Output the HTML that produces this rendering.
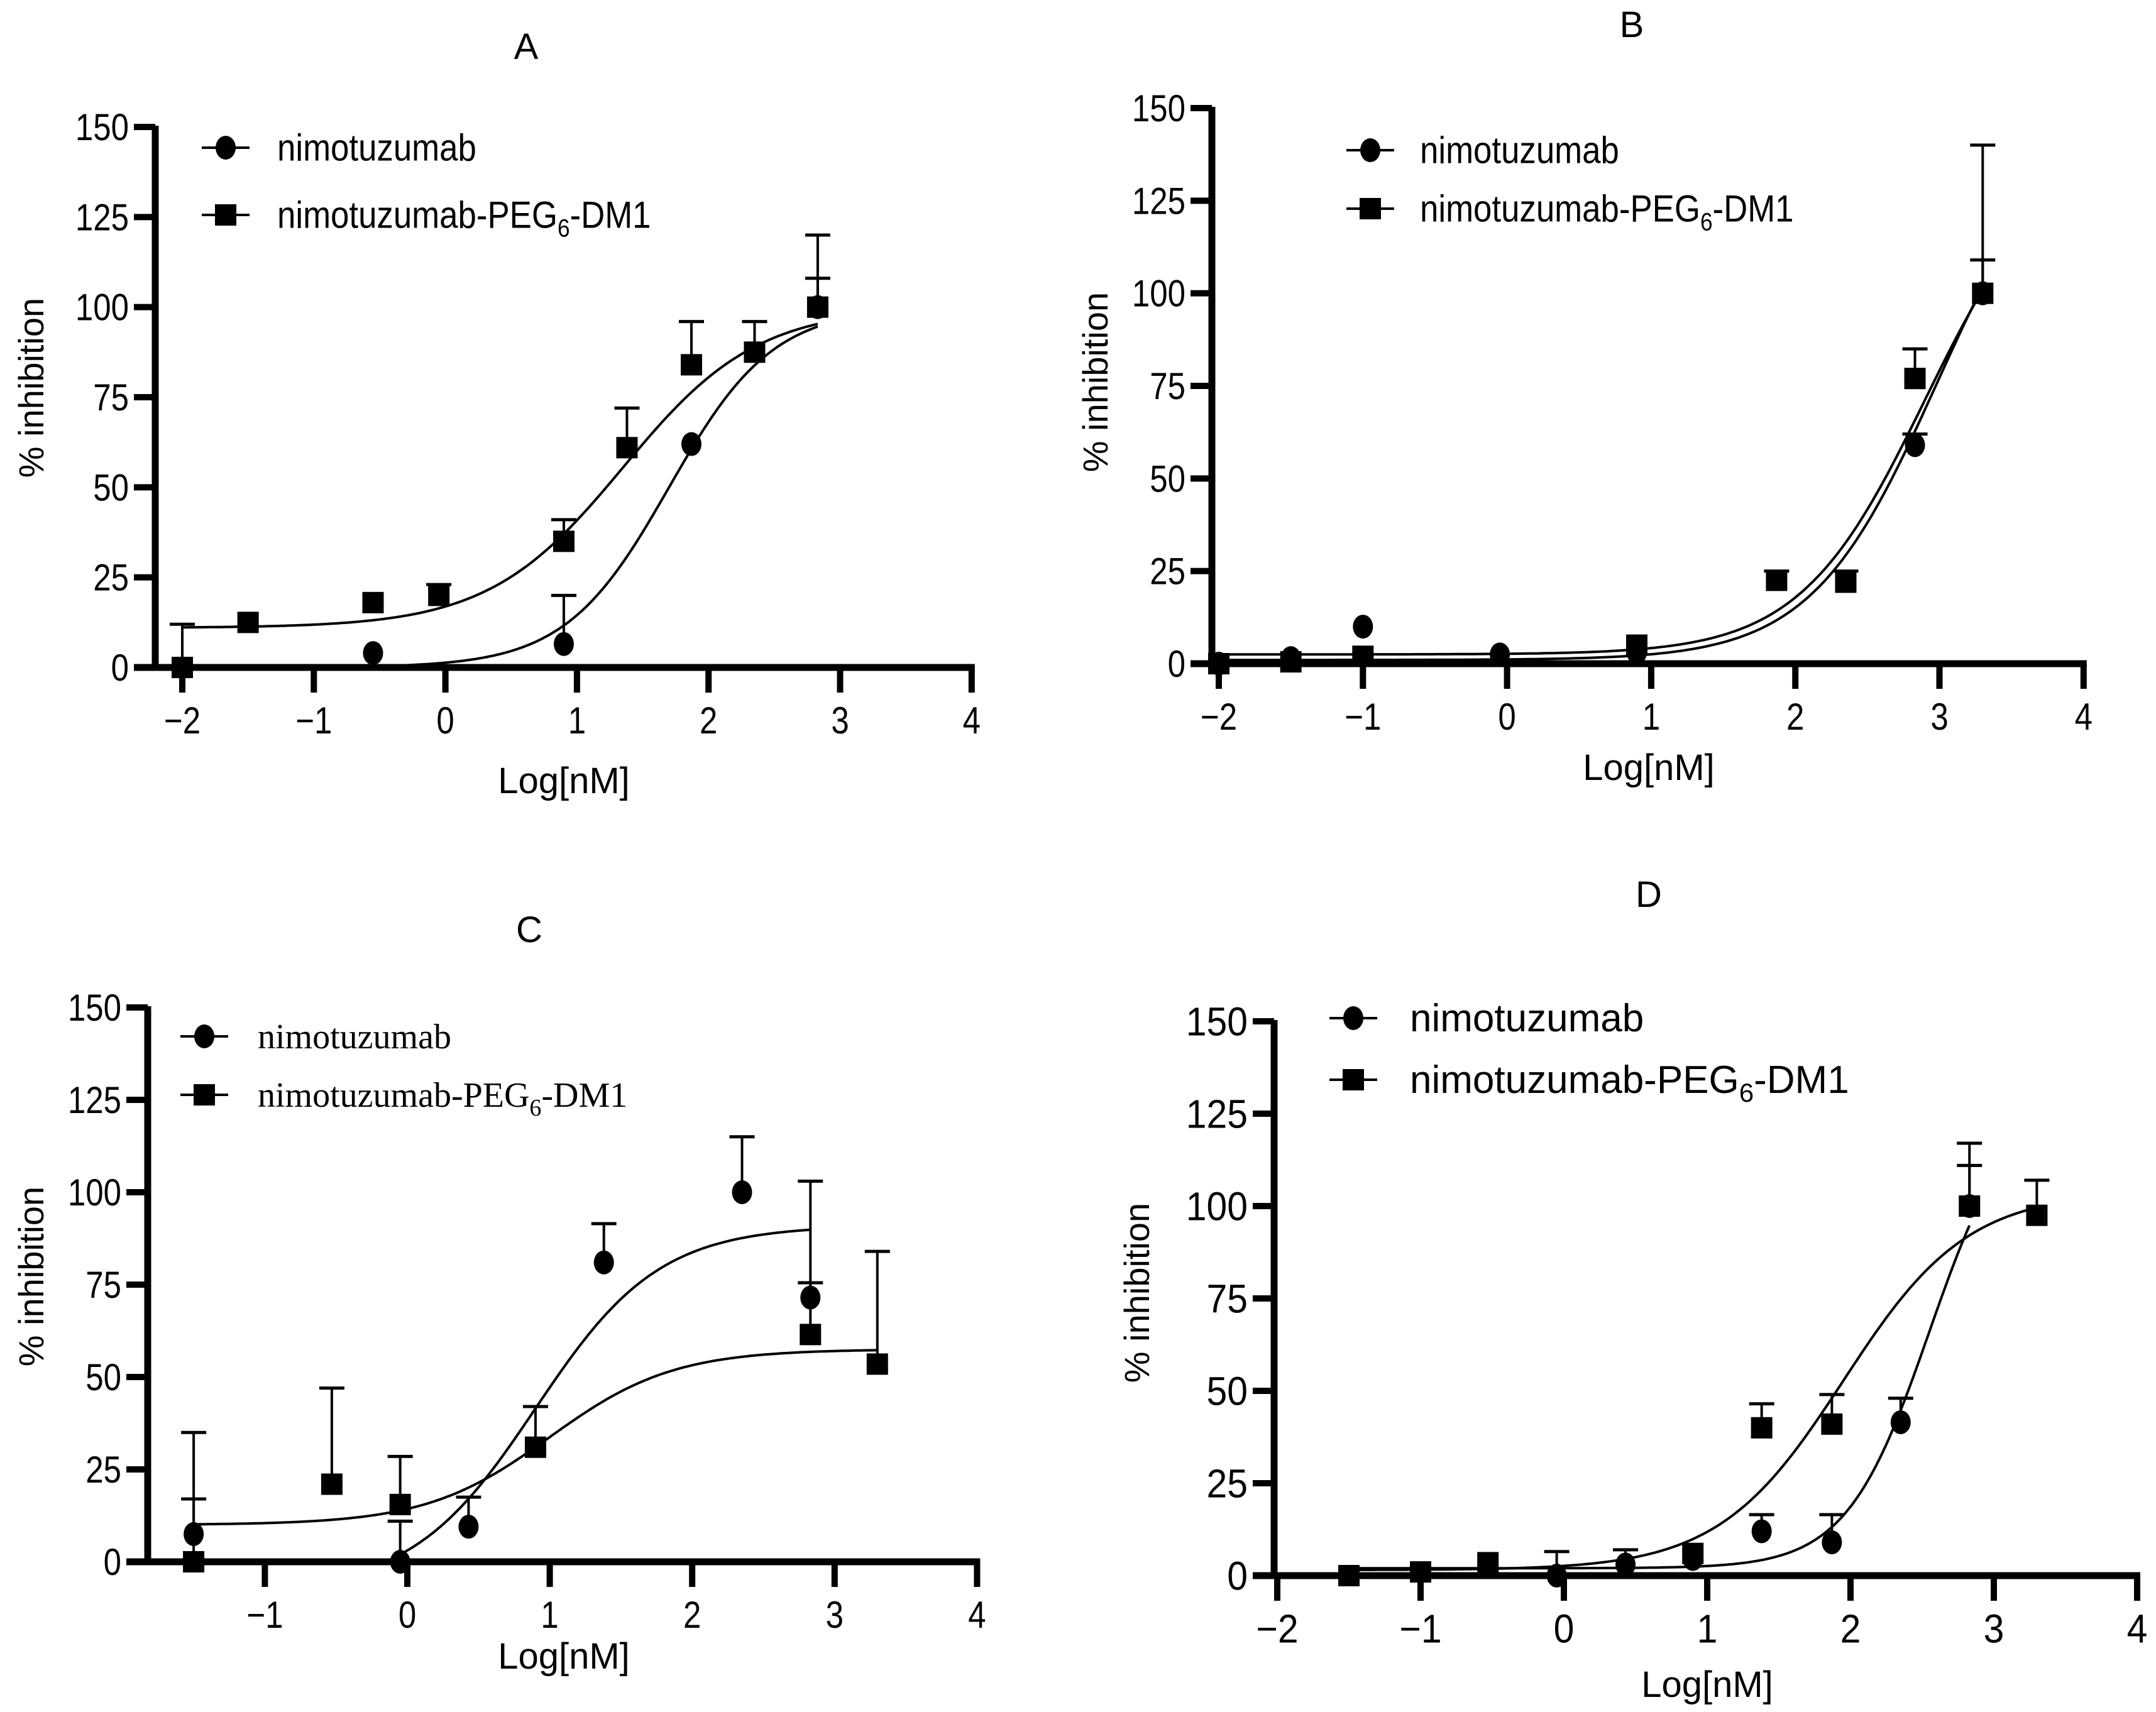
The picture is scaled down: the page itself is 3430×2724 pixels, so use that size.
<!DOCTYPE html>
<html><head><meta charset="utf-8"><style>
html,body{margin:0;padding:0;background:#fff;}
svg{display:block;}
</style></head><body>
<svg id="fig" xmlns="http://www.w3.org/2000/svg" width="3430" height="2724" viewBox="0 0 3430 2724">
<rect width="3430" height="2724" fill="#fff"/>
</svg>
<script>
// ---------- DATA ----------
const xTicksABD = [-2,-1,0,1,2,3,4];
const xTicksC = [-1,0,1,2,3,4];
const yTicks = [0,25,50,75,100,125,150];

// Panel A
const aCircX = [-0.55, 0.9, 1.87, 2.83];
const aCircY = [4, 6.5, 62, 100];
const aCircErr = [null, 20, null, 120];
const aSqX = [-2, -1.5, -0.55, -0.05, 0.9, 1.38, 1.87, 2.35, 2.83];
const aSqY = [0, 12.5, 18, 20, 35, 61, 84, 87.5, 100];
const aSqErr = [12, null, null, 23, 41, 72, 96, 96, 108];
const aCircFit = [0, 100, 1.7, 1.1];
const aSqFit = [11, 100, 1.35, 0.85];

// Panel B
const bCircX = [-2, -1.5, -1, -0.05, 0.9, 2.83, 3.3];
const bCircY = [0, 1.5, 10, 2.5, 3, 59, 100];
const bCircErr = [null, null, null, null, null, 62, 140];
const bSqX = [-2, -1.5, -1, 0.9, 1.87, 2.35, 2.83, 3.3];
const bSqY = [0, 0.5, 2, 5, 22.5, 22, 77, 100];
const bSqErr = [null, null, null, null, 25, 25, 85, 109];
const bCircFit = [1, 150, 2.98, 1];
const bSqFit = [2.5, 140, 2.9, 1];

// Panel C
const cCircX = [-1.5, -0.05, 0.43, 1.38, 2.35, 2.83];
const cCircY = [7.5, 0, 9.5, 81, 100, 71.5];
const cCircErr = [17, 11, 17.5, 91.5, 115, 75.5];
const cSqX = [-1.5, -0.53, -0.05, 0.9, 2.83, 3.3];
const cSqY = [0, 21, 15.5, 31, 61.5, 53.5];
const cSqErr = [35, 47, 28.5, 42, 103, 84];
const cCircFit = [-8, 91, 0.9, 1.0];
const cSqFit = [10, 57.5, 1.0, 1];

// Panel D
const dCircX = [-0.05, 0.43, 0.9, 1.38, 1.87, 2.35, 2.83];
const dCircY = [0, 3, 4.5, 12, 9, 41.5, 100];
const dCircErr = [6.5, 7, null, 16.5, 16.5, 48, 117];
const dSqX = [-1.5, -1, -0.53, 0.9, 1.38, 1.87, 2.83, 3.3];
const dSqY = [0, 1, 3.5, 6, 40, 41, 100, 97.5];
const dSqErr = [null, null, null, null, 46.5, 49, 111, 107];
const dCircFit = [2, 130, 2.55, 1.5];
const dSqFit = [1.5, 104, 1.95, 1.0];

// ---------- RENDER ----------
const NS = 'http://www.w3.org/2000/svg';
const svg = document.getElementById('fig');
function mk(tag, attrs, parent){
  const e = document.createElementNS(NS, tag);
  for (const k in attrs) e.setAttribute(k, attrs[k]);
  (parent||svg).appendChild(e);
  return e;
}
function sig(p, x){ return p[0] + (p[1]-p[0])/(1+Math.pow(10,(p[2]-x)*p[3])); }

function panel(cfg){
  const g = mk('g', {});
  
  
  const xs = v => cfg.x0 + (v - cfg.xRef) * cfg.xUnit;
  const ys = v => cfg.y0 - v * cfg.yUnit;
  const ff = cfg.serif ? '"Liberation Serif", serif' : '"Liberation Sans", sans-serif';
  const tsx = cfg.tickScale || 0.85;
  const tfs = cfg.tickFont || 60;

  const t = mk('text', {x: cfg.titleX, y: cfg.titleY + 20, 'font-family': '"Liberation Sans", sans-serif', 'font-size': 58, 'text-anchor': 'middle'}, g);
  t.textContent = cfg.id.toUpperCase();
  
  

  const xEnd = xs(cfg.xTicks[cfg.xTicks.length-1]);
  const ya = mk('line', {x1: cfg.ax, x2: cfg.ax, y1: ys(150)-2, y2: cfg.y0+5, stroke: '#000', 'stroke-width': 11}, g);
  
  
  const xa = mk('line', {x1: cfg.ax-34, x2: xEnd+5, y1: cfg.y0, y2: cfg.y0, stroke: '#000', 'stroke-width': 11}, g);
  
  

  yTicks.forEach(v => {
    const y = ys(v);
    if (v > 0) mk('line', {x1: cfg.ax-34, x2: cfg.ax, y1: y, y2: y, stroke: '#000', 'stroke-width': 10}, g);
    const gg = mk('g', {transform: `translate(${cfg.ax-42},${y+tfs*0.35}) scale(${tsx},1)`}, g);
    const tx = mk('text', {x: 0, y: 0, 'font-family': '"Liberation Sans", sans-serif', 'font-size': tfs, 'text-anchor': 'end'}, gg);
    tx.textContent = v;
    
    
  });
  cfg.xTicks.forEach(v => {
    const x = xs(v);
    mk('line', {x1: x, x2: x, y1: cfg.y0, y2: cfg.y0+40, stroke: '#000', 'stroke-width': 10}, g);
    const gg = mk('g', {transform: `translate(${x},${cfg.y0+84+tfs*0.35}) scale(${tsx},1)`}, g);
    const tx = mk('text', {x: 0, y: 0, 'font-family': '"Liberation Sans", sans-serif', 'font-size': tfs, 'text-anchor': 'middle'}, gg);
    tx.textContent = v < 0 ? '\u2212' + Math.abs(v) : String(v);
    
    
  });

  const xl = mk('text', {x: cfg.xlX, y: cfg.xlY + 20, 'font-family': '"Liberation Sans", sans-serif', 'font-size': 58, 'text-anchor': 'middle'}, g);
  xl.textContent = 'Log[nM]';
  
  
  const yl = mk('text', {x: 0, y: 0, transform: `translate(${cfg.ylX+20},${cfg.ylY}) rotate(-90)`, 'font-family': '"Liberation Sans", sans-serif', 'font-size': 56, 'text-anchor': 'middle'}, g);
  yl.textContent = '% inhibition';
  
  

  function curve(p, a, b, name){
    let d = '';
    for (let i = 0; i <= 200; i++){
      const x = a + (b-a)*i/200;
      let v = sig(p, x);
      if (v < 0) v = 0;
      d += (i ? 'L' : 'M') + xs(x).toFixed(1) + ',' + ys(v).toFixed(1);
    }
    const c = mk('path', {d: d, fill: 'none', stroke: '#000', 'stroke-width': 4}, g);
    
    
  }
  curve(cfg.circFit, cfg.circRange[0], cfg.circRange[1], 'nimotuzumab-fit-curve');
  curve(cfg.sqFit, cfg.sqRange[0], cfg.sqRange[1], 'adc-fit-curve');

  function series(X, Y, E, shape, name){
    X.forEach((xv, i) => {
      const x = xs(xv), y = ys(Y[i]);
      if (E[i] != null){
        const ye = ys(E[i]);
        mk('line', {x1: x, x2: x, y1: y, y2: ye, stroke: '#000', 'stroke-width': 4}, g);
        const cap = mk('line', {x1: x-20, x2: x+20, y1: ye, y2: ye, stroke: '#000', 'stroke-width': 5}, g);
        
        
      }
      let m;
      if (shape === 'circle') m = mk('ellipse', {cx: x, cy: y, rx: 16, ry: 19, fill: '#000'}, g);
      else m = mk('rect', {x: x-17, y: y-17, width: 34, height: 34, fill: '#000'}, g);
      
      
    });
  }
  series(cfg.sqX, cfg.sqY, cfg.sqErr, 'square', 'adc');
  series(cfg.circX, cfg.circY, cfg.circErr, 'circle', 'nimotuzumab');

  const lg = mk('g', {}, g);
  
  
  const lfs = cfg.legFont || (cfg.serif ? 56 : 60);
  const lsx = cfg.legScale || (cfg.serif ? 1 : 0.88);
  [[cfg.legY1, 'circle'], [cfg.legY2, 'square']].forEach(([ly, sh]) => {
    const e = mk('g', {}, lg);
    
    
    mk('line', {x1: cfg.legX-38, x2: cfg.legX+38, y1: ly, y2: ly, stroke: '#000', 'stroke-width': 4}, e);
    if (sh === 'circle') mk('ellipse', {cx: cfg.legX, cy: ly, rx: 16, ry: 19, fill: '#000'}, e);
    else mk('rect', {x: cfg.legX-17, y: ly-17, width: 34, height: 34, fill: '#000'}, e);
    const tg = mk('g', {transform: `translate(${cfg.legTX},${ly+lfs*0.34}) scale(${lsx},1)`}, e);
    const tx = mk('text', {x: 0, y: 0, 'font-family': ff, 'font-size': lfs}, tg);
    if (sh === 'circle') tx.textContent = (cfg.serif ? ' ' : '') + 'nimotuzumab';
    else {
      tx.appendChild(document.createTextNode('nimotuzumab-PEG'));
      const sub = mk('tspan', {'font-size': Math.round(lfs*0.67), dy: 14}, tx);
      sub.textContent = '6';
      const rest = mk('tspan', {dy: -14}, tx);
      rest.textContent = '-DM1';
    }
  });
}

panel({id:'a', x0:290, xRef:-2, xUnit:209.3, y0:1062, yUnit:860/150, ax:247, xTicks:xTicksABD,
  titleX:837, titleY:74, xlX:897, xlY:1242, ylX:49, ylY:617, legX:359, legY1:235, legY2:342, legTX:441,
  circX:aCircX, circY:aCircY, circErr:aCircErr, sqX:aSqX, sqY:aSqY, sqErr:aSqErr,
  circFit:aCircFit, sqFit:aSqFit, circRange:[-0.55,2.83], sqRange:[-2,2.83]});
panel({id:'b', x0:1939, xRef:-2, xUnit:229.3, y0:1056, yUnit:884/150, ax:1928, xTicks:xTicksABD,
  titleX:2596, titleY:39, xlX:2623, xlY:1221, ylX:1742, ylY:608, legX:2180, legY1:239, legY2:332, legTX:2259,
  circX:bCircX, circY:bCircY, circErr:bCircErr, sqX:bSqX, sqY:bSqY, sqErr:bSqErr,
  circFit:bCircFit, sqFit:bSqFit, circRange:[-2,3.3], sqRange:[-2,3.3]});
panel({id:'c', x0:648, xRef:0, xUnit:226.6, y0:2485, yUnit:882/150, ax:235, xTicks:xTicksC, serif:true,
  titleX:842, titleY:1479, xlX:897, xlY:2635, ylX:49, ylY:2031, legX:325, legY1:1649, legY2:1742, legTX:410,
  circX:cCircX, circY:cCircY, circErr:cCircErr, sqX:cSqX, sqY:cSqY, sqErr:cSqErr,
  circFit:cCircFit, sqFit:cSqFit, circRange:[-0.5,2.83], sqRange:[-1.5,3.3]});
panel({id:'d', x0:2032, xRef:-2, xUnit:228, y0:2507, yUnit:882/150, ax:2027, xTicks:xTicksABD,
  tickFont:64, tickScale:0.92, legFont:62, legScale:1.0,
  titleX:2623, titleY:1423, xlX:2716, xlY:2680, ylX:1808, ylY:2057, legX:2153, legY1:1620, legY2:1718, legTX:2243,
  circX:dCircX, circY:dCircY, circErr:dCircErr, sqX:dSqX, sqY:dSqY, sqErr:dSqErr,
  circFit:dCircFit, sqFit:dSqFit, circRange:[-1.5,2.83], sqRange:[-1.5,3.3]});
</script>
</body></html>
